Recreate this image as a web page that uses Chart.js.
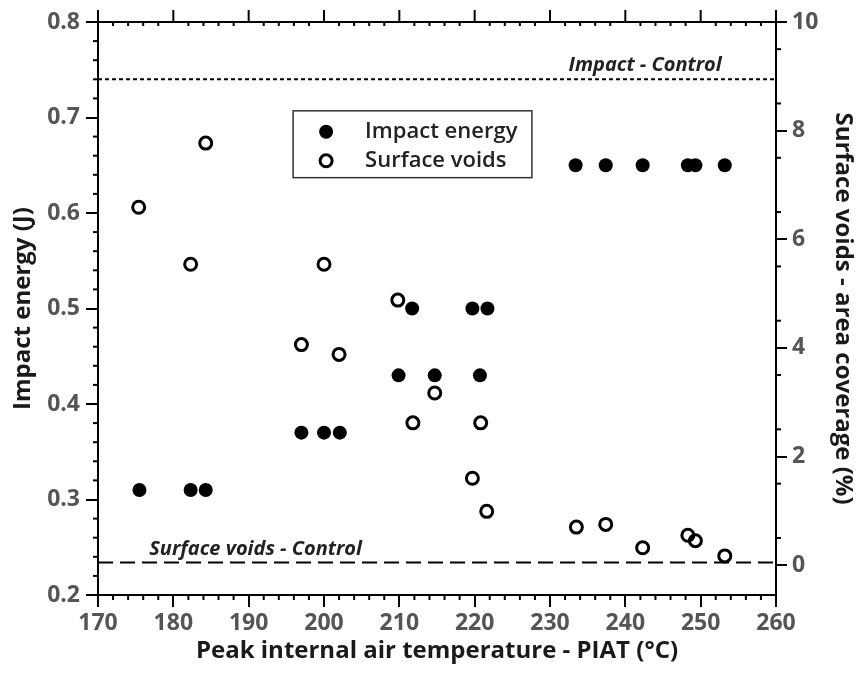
<!DOCTYPE html>
<html>
<head>
<meta charset="utf-8">
<script src="https://cdn.jsdelivr.net/npm/chart.js@4/dist/chart.umd.min.js"></script>
<style>
  body { margin: 0; background: #fff; }
</style>
</head>
<body>
<canvas id="chart" width="859" height="679"></canvas>
<script>
// data
const piatImpact = [175.5, 182.3, 184.3, 197.0, 200.0, 202.1, 209.9, 211.7, 214.7, 219.7, 220.7, 221.7, 233.4, 237.4, 242.3, 248.3, 249.3, 253.2];
const impactEnergy = [0.31, 0.31, 0.31, 0.37, 0.37, 0.37, 0.43, 0.50, 0.43, 0.50, 0.43, 0.50, 0.65, 0.65, 0.65, 0.65, 0.65, 0.65];
const piatVoids = [175.4, 182.3, 184.3, 197.0, 200.0, 202.0, 209.8, 211.8, 214.7, 219.7, 220.8, 221.6, 233.5, 237.4, 242.3, 248.3, 249.3, 253.2];
const surfaceVoids = [6.59, 5.54, 7.77, 4.06, 5.54, 3.88, 4.88, 2.62, 3.17, 1.60, 2.62, 0.99, 0.70, 0.75, 0.32, 0.55, 0.45, 0.17];
const impactControl = 0.74;
const voidsControl = 0.05;
const xTicks = [170, 180, 190, 200, 210, 220, 230, 240, 250, 260];
const leftTicks = [0.2, 0.3, 0.4, 0.5, 0.6, 0.7, 0.8];
const rightTicks = [0, 2, 4, 6, 8, 10];

const tickFont = { family: 'Open Sans', size: 23, weight: 'bold' };
const titleFont = { family: 'Open Sans', size: 24, weight: 'bold' };

// minor ticks, top frame, control labels and the boxed legend
const extras = {
  id: 'extras',
  afterDraw(chart) {
    const ctx = chart.ctx;
    const x = chart.scales.x, yl = chart.scales.y, yr = chart.scales.y2;
    const a = chart.chartArea;
    ctx.save();
    ctx.strokeStyle = '#000';
    ctx.lineWidth = 2;
    // top frame line
    ctx.beginPath();
    ctx.moveTo(a.left - 1, a.top);
    ctx.lineTo(a.right + 1, a.top);
    ctx.stroke();
    // x ticks (major up on top, minors both edges)
    for (let v = 170; v <= 260; v += 2) {
      const px = x.getPixelForValue(v);
      const major = v % 10 === 0;
      ctx.beginPath();
      if (major) {
        ctx.moveTo(px, a.top);
        ctx.lineTo(px, a.top - 12);
      } else {
        ctx.moveTo(px, a.top);
        ctx.lineTo(px, a.top + 4);
        ctx.moveTo(px, a.bottom);
        ctx.lineTo(px, a.bottom + 5);
      }
      ctx.stroke();
    }
    // left minors
    for (let v = 0.2; v <= 0.8001; v += 0.02) {
      if (Math.abs(v * 10 - Math.round(v * 10)) < 1e-6) continue;
      const py = yl.getPixelForValue(v);
      ctx.beginPath();
      ctx.moveTo(a.left, py);
      ctx.lineTo(a.left - 5, py);
      ctx.stroke();
    }
    // right minors
    for (let v = 0.5; v < 10; v += 1) {
      const py = yr.getPixelForValue(v);
      ctx.beginPath();
      ctx.moveTo(a.right, py);
      ctx.lineTo(a.right + 5, py);
      ctx.stroke();
    }

    // control labels
    ctx.fillStyle = '#222';
    ctx.font = 'italic bold 20px "Open Sans"';
    ctx.textBaseline = 'alphabetic';
    ctx.textAlign = 'right';
    ctx.fillText('Impact - Control', x.getPixelForValue(252.8), yl.getPixelForValue(impactControl) - 8);
    ctx.textAlign = 'left';
    ctx.fillText('Surface voids - Control', x.getPixelForValue(176.8), yr.getPixelForValue(voidsControl) - 7);

    // legend box
    const bx = x.getPixelForValue(195.9), bx2 = x.getPixelForValue(227.6);
    const by = yl.getPixelForValue(0.707), by2 = yl.getPixelForValue(0.637);
    ctx.lineWidth = 1.5;
    ctx.strokeStyle = '#333';
    ctx.strokeRect(bx, by, bx2 - bx, by2 - by);
    const rows = chart.data.datasets.filter(d => !d.isControl);
    rows.forEach((d, i) => {
      const cy = by + 21 + i * 29;
      const cx = bx + 33;
      ctx.beginPath();
      ctx.arc(cx, cy, d.pointRadius, 0, Math.PI * 2);
      if (d.backgroundColor !== 'rgba(0,0,0,0)') {
        ctx.fillStyle = d.backgroundColor;
        ctx.fill();
      } else {
        ctx.lineWidth = d.borderWidth;
        ctx.strokeStyle = d.borderColor;
        ctx.stroke();
      }
      ctx.fillStyle = '#222';
      ctx.font = '600 22px "Open Sans"';
      ctx.textAlign = 'left';
      ctx.textBaseline = 'middle';
      ctx.fillText(d.label, bx + 72, cy);
    });
    ctx.restore();
  }
};

const pts = (xs, ys) => xs.map((v, i) => ({ x: v, y: ys[i] }));

new Chart(document.getElementById('chart'), {
  type: 'scatter',
  data: {
    datasets: [
      {
        label: 'Impact energy',
        data: pts(piatImpact, impactEnergy),
        yAxisID: 'y',
        pointRadius: 7,
        backgroundColor: '#000',
        borderColor: '#000',
        borderWidth: 0
      },
      {
        label: 'Surface voids',
        data: pts(piatVoids, surfaceVoids),
        yAxisID: 'y2',
        pointRadius: 6,
        backgroundColor: 'rgba(0,0,0,0)',
        borderColor: '#000',
        borderWidth: 3
      },
      {
        label: 'Impact - Control',
        isControl: true,
        data: [{ x: 170, y: impactControl }, { x: 260, y: impactControl }],
        yAxisID: 'y',
        showLine: true,
        pointRadius: 0,
        borderColor: '#000',
        borderWidth: 2,
        borderDash: [4, 3]
      },
      {
        label: 'Surface voids - Control',
        isControl: true,
        data: [{ x: 170, y: voidsControl }, { x: 260, y: voidsControl }],
        yAxisID: 'y2',
        showLine: true,
        pointRadius: 0,
        borderColor: '#000',
        borderWidth: 2,
        borderDash: [15, 7]
      }
    ]
  },
  options: {
    responsive: false,
    animation: false,
    layout: { padding: { top: 22, left: 0, right: 0, bottom: 0 } },
    plugins: { legend: { display: false }, tooltip: { enabled: false } },
    scales: {
      x: {
        type: 'linear',
        min: 170,
        max: 260,
        afterFit: s => { s.height = 84; },
        afterBuildTicks: s => { s.ticks = xTicks.map(v => ({ value: v })); },
        ticks: { font: tickFont, color: '#555', padding: 3, maxRotation: 0 },
        grid: { drawOnChartArea: false, tickLength: 12, color: '#000', lineWidth: 2 },
        border: { color: '#000', width: 2 },
        title: {
          display: true,
          text: 'Peak internal air temperature - PIAT (°C)',
          font: titleFont,
          color: '#1a1a1a',
          padding: { top: 0, bottom: 13 }
        }
      },
      y: {
        position: 'left',
        min: 0.2,
        max: 0.8,
        afterFit: s => { s.width = 98; },
        afterBuildTicks: s => { s.ticks = leftTicks.map(v => ({ value: v })); },
        ticks: { font: tickFont, color: '#555', padding: 6, callback: v => v.toFixed(1) },
        grid: { drawOnChartArea: false, tickLength: 12, color: '#000', lineWidth: 2 },
        border: { color: '#000', width: 2 },
        title: {
          display: true,
          text: 'Impact energy (J)',
          font: titleFont,
          color: '#1a1a1a',
          padding: { top: 9, bottom: 0 }
        }
      },
      y2: {
        position: 'right',
        min: -0.55,
        max: 10,
        afterFit: s => { s.width = 83; },
        afterBuildTicks: s => { s.ticks = rightTicks.map(v => ({ value: v })); },
        ticks: { font: tickFont, color: '#555', padding: 5 },
        grid: { drawOnChartArea: false, tickLength: 11, color: '#000', lineWidth: 2 },
        border: { color: '#000', width: 2 },
        title: {
          display: true,
          text: 'Surface voids - area coverage (%)',
          font: titleFont,
          color: '#1a1a1a',
          padding: { top: 2, bottom: 0 }
        }
      }
    }
  },
  plugins: [extras]
});
</script>
</body>
</html>
